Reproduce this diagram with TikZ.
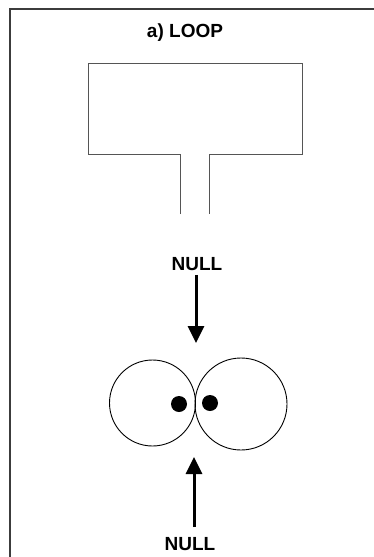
\documentclass[tikz,border=0pt]{standalone}
\usepackage{fontspec}
\setmainfont{Liberation Sans}
\usetikzlibrary{positioning,arrows.meta}
\definecolor{framegray}{RGB}{60,60,60}
\definecolor{loopgray}{RGB}{85,85,85}

\begin{document}
\begin{tikzpicture}[x=1pt,y=-1pt,
    lbl/.style={font=\fontsize{19}{21}\selectfont\bfseries,inner sep=0pt},
    ring/.style={circle,draw,line width=0.9pt,inner sep=0pt},
    dot/.style={circle,fill,inner sep=0pt,minimum size=16pt},
    nullarrow/.style={line width=3pt,-{Triangle[length=17pt,width=16pt]}}]
  \useasboundingbox (0,0) rectangle (374,557);
  \draw[framegray,line width=1.5pt] (10,557) -- (10,9) -- (374,9);
  \node[lbl] (title) at (185,33) {a) LOOP};
  \draw[loopgray,line width=1pt] (180,214) -- (180,154) -- (88,154) -- (88,63)
    -- (302,63) -- (302,154) -- (209,154) -- (209,214);
  \node[lbl] (nulltop) at (197,264) {NULL};
  \coordinate (toptip) at (196,343);
  \draw[nullarrow,shorten <=4pt] (nulltop.south -| toptip) -- (toptip);
  \node[ring,minimum size=86pt] (ringleft) at (152.5,403) {};
  \node[ring,minimum size=92pt] (ringright) at (241,404) {};
  \node[dot] (dotleft) at (179,404) {};
  \node[dot] (dotright) at (210,403) {};
  \node[lbl] (nullbot) at (190,544) {NULL};
  \coordinate (bottip) at (194,457);
  \draw[nullarrow,shorten <=10pt] (nullbot.north -| bottip) -- (bottip);
\end{tikzpicture}
\end{document}
